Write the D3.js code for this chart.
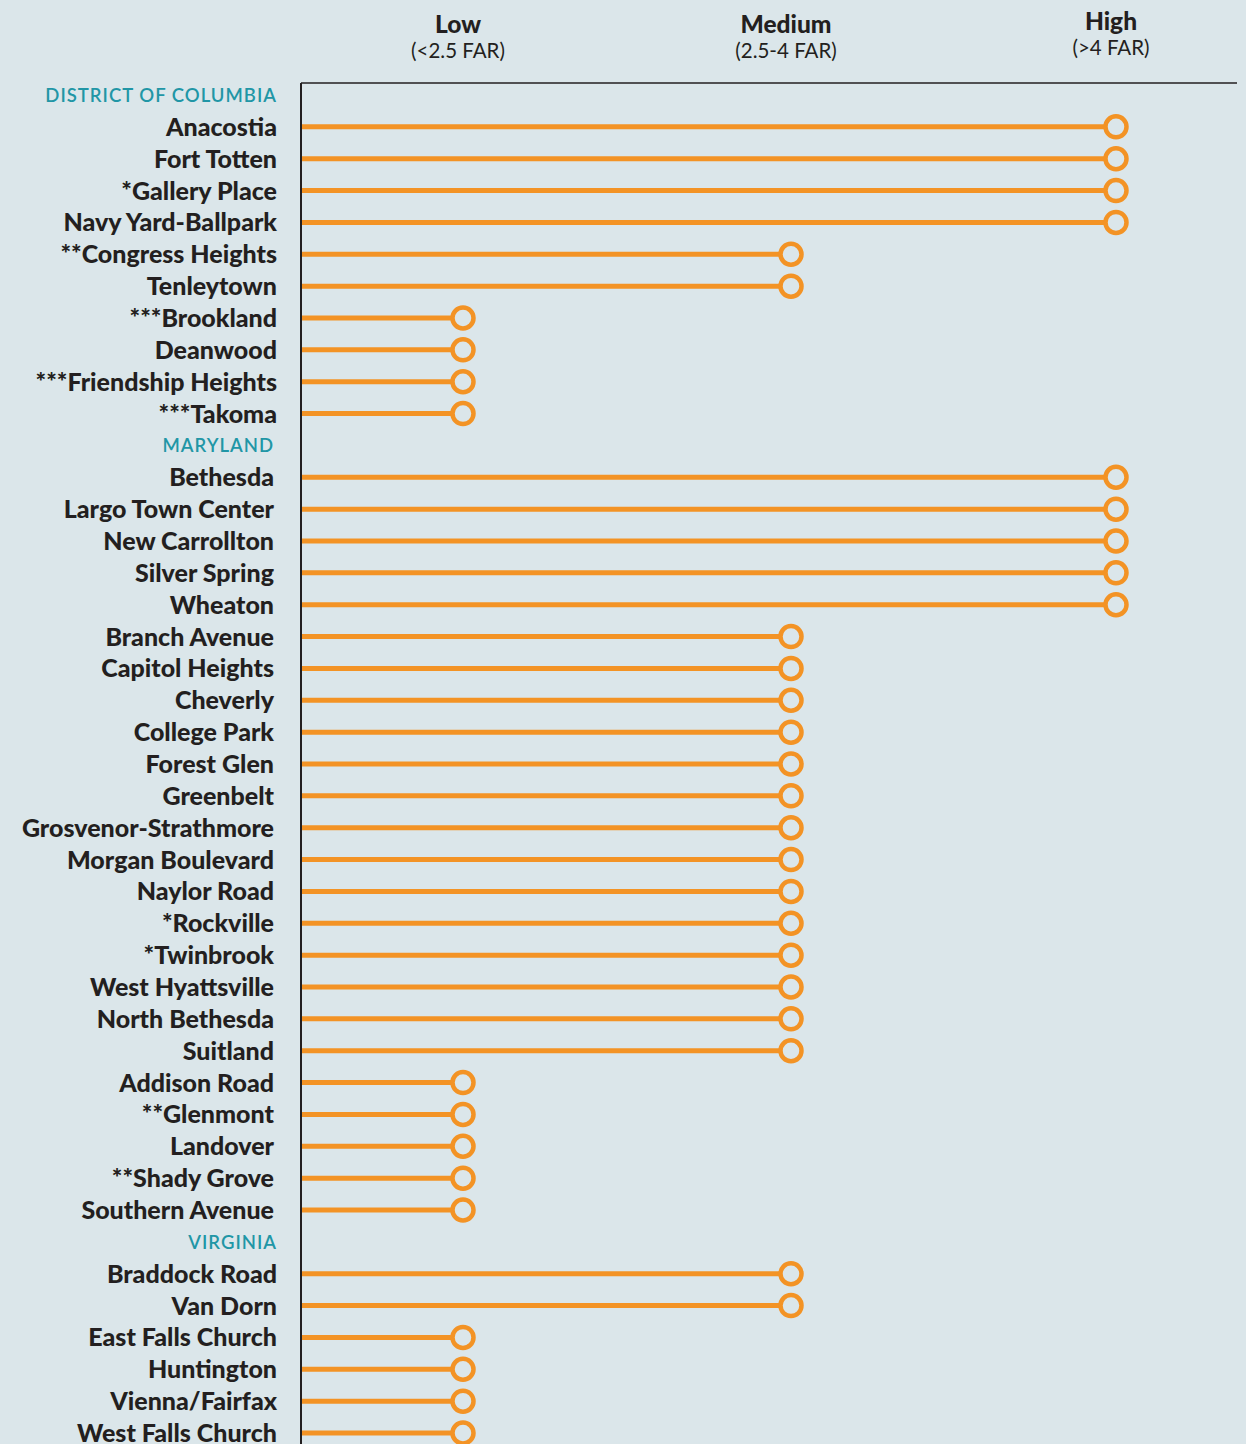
<!DOCTYPE html>
<html>
<head>
<meta charset="utf-8">
<script src="https://cdn.jsdelivr.net/npm/d3@7"></script>
<style>
  html, body { margin: 0; padding: 0; background: #dbe6ea; }
  svg { display: block; font-family: Lato, "Noto Sans", sans-serif; }
</style>
</head>
<body>
<div id="chart"></div>
<script>
// density levels (column headers)
var levels = ["Low", "Medium", "High"];
var levelNotes = ["(<2.5 FAR)", "(2.5-4 FAR)", "(>4 FAR)"];

// stations by jurisdiction, with their density level
var dcStations = ["Anacostia", "Fort Totten", "*Gallery Place", "Navy Yard-Ballpark",
    "**Congress Heights", "Tenleytown", "***Brookland", "Deanwood",
    "***Friendship Heights", "***Takoma"];
var dcLevels = ["High", "High", "High", "High", "Medium", "Medium", "Low", "Low", "Low", "Low"];

var mdStations = ["Bethesda", "Largo Town Center", "New Carrollton", "Silver Spring", "Wheaton",
    "Branch Avenue", "Capitol Heights", "Cheverly", "College Park", "Forest Glen", "Greenbelt",
    "Grosvenor-Strathmore", "Morgan Boulevard", "Naylor Road", "*Rockville", "*Twinbrook",
    "West Hyattsville", "North Bethesda", "Suitland", "Addison Road", "**Glenmont",
    "Landover", "**Shady Grove", "Southern Avenue"];
var mdLevels = ["High", "High", "High", "High", "High",
    "Medium", "Medium", "Medium", "Medium", "Medium", "Medium", "Medium", "Medium", "Medium",
    "Medium", "Medium", "Medium", "Medium", "Medium",
    "Low", "Low", "Low", "Low", "Low"];

var vaStations = ["Braddock Road", "Van Dorn", "East Falls Church", "Huntington",
    "Vienna/Fairfax", "West Falls Church"];
var vaLevels = ["Medium", "Medium", "Low", "Low", "Low", "Low"];

var groups = [
    { name: "DISTRICT OF COLUMBIA", stations: dcStations, levels: dcLevels, right: 277 },
    { name: "MARYLAND", stations: mdStations, levels: mdLevels, right: 274 },
    { name: "VIRGINIA", stations: vaStations, levels: vaLevels, right: 277 }
];

var width = 1246, height = 1444;
var orange = "#f39325", teal = "#2196a6", ink = "#231f20", bg = "#dbe6ea";

// flatten into rows: a header row per group, then a row per station
var rows = [];
groups.forEach(function(g) {
    rows.push({ key: "h-" + g.name, label: g.name, header: true, right: g.right });
    g.stations.forEach(function(s, i) {
        rows.push({ key: s, label: s, level: g.levels[i], header: false, right: g.right });
    });
});

var axisX = 301, topY = 83;

var y = d3.scalePoint()
    .domain(rows.map(function(d) { return d.key; }))
    .range([95, 1433]);

var x = d3.scaleOrdinal()
    .domain(levels)
    .range([463, 791, 1116]);

var svg = d3.select("#chart").append("svg")
    .attr("width", width)
    .attr("height", height);

svg.append("rect").attr("width", width).attr("height", height).attr("fill", bg);

// column headers
var head = svg.append("g").selectAll("g")
    .data(levels)
    .enter().append("g")
    .attr("transform", function(d, i) {
        return "translate(" + (x(d) - 5) + "," + (i == 2 ? -3 : 0) + ")";
    });

head.append("text")
    .attr("y", 33)
    .attr("text-anchor", "middle")
    .attr("font-size", 24.5)
    .attr("font-weight", 900)
    .attr("fill", ink)
    .text(function(d) { return d; });

head.append("text")
    .attr("y", 58)
    .attr("text-anchor", "middle")
    .attr("font-size", 20.5)
    .attr("fill", ink)
    .text(function(d, i) { return levelNotes[i]; });

// frame lines
svg.append("line")
    .attr("x1", axisX).attr("x2", 1237)
    .attr("y1", topY).attr("y2", topY)
    .attr("stroke", ink).attr("stroke-width", 1.5);

svg.append("line")
    .attr("x1", axisX).attr("x2", axisX)
    .attr("y1", topY).attr("y2", height)
    .attr("stroke", ink).attr("stroke-width", 2);

// row labels
svg.append("g").selectAll("text")
    .data(rows)
    .enter().append("text")
    .attr("x", function(d) { return d.right; })
    .attr("y", function(d) { return y(d.key); })
    .attr("dy", "0.36em")
    .attr("text-anchor", "end")
    .attr("font-size", function(d) { return d.header ? 18.5 : 25; })
    .attr("font-weight", function(d) { return d.header ? 600 : 900; })
    .attr("letter-spacing", function(d) { return d.header ? 1 : 0; })
    .attr("fill", function(d) { return d.header ? teal : ink; })
    .text(function(d) { return d.label; });

var stations = rows.filter(function(d) { return !d.header; });

// lollipops
svg.append("g").selectAll("line")
    .data(stations)
    .enter().append("line")
    .attr("x1", axisX + 1)
    .attr("x2", function(d) { return x(d.level) - 10; })
    .attr("y1", function(d) { return y(d.key); })
    .attr("y2", function(d) { return y(d.key); })
    .attr("stroke", orange)
    .attr("stroke-width", 5);

svg.append("g").selectAll("circle")
    .data(stations)
    .enter().append("circle")
    .attr("cx", function(d) { return x(d.level); })
    .attr("cy", function(d) { return y(d.key); })
    .attr("r", 10.5)
    .attr("fill", bg)
    .attr("stroke", orange)
    .attr("stroke-width", 4.5);
</script>
</body>
</html>
